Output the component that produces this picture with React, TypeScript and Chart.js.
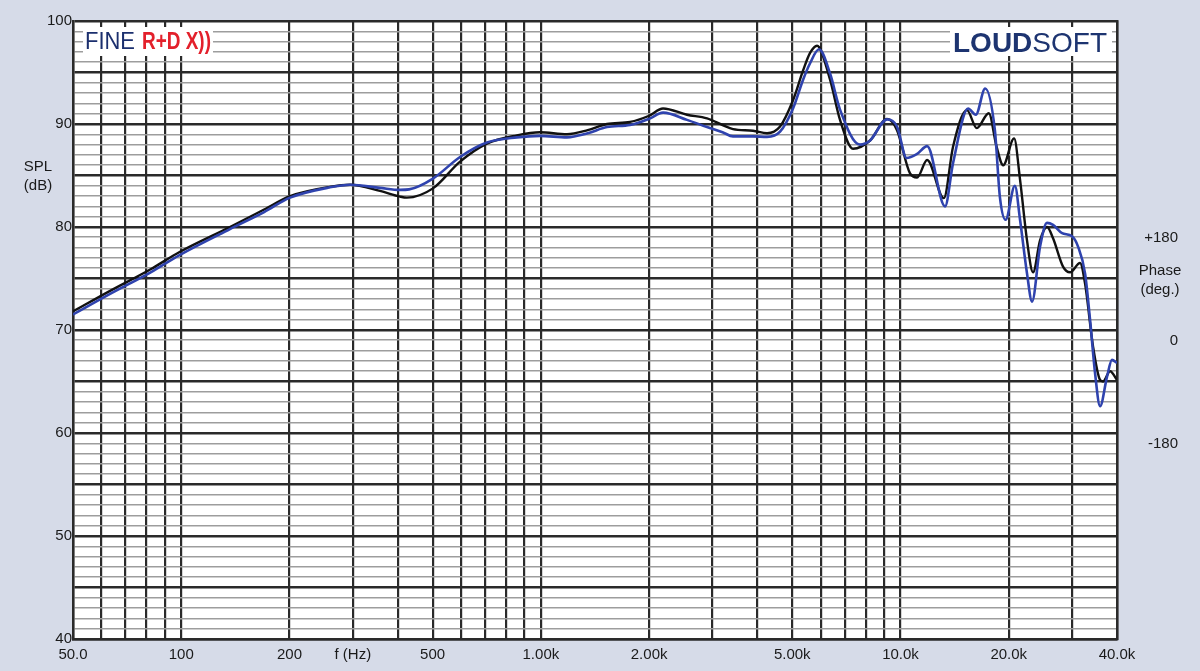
import React, { useEffect, useRef } from "react";
import { Chart, registerables } from "chart.js";

Chart.register(...registerables);

// ---- data ----
const blackFreq = [50, 63.4, 82.2, 99.2, 136.6, 170, 200.7, 259, 295, 357, 406, 424, 501, 596, 708, 858, 994, 1182, 1350, 1527, 1770, 2000, 2186, 2549, 2898, 3200, 3422, 3890, 4255, 4625, 5025, 5360, 5605, 5860, 6370, 6790, 7380, 8230, 9175, 9780, 10630, 11120, 11860, 13200, 14000, 15300, 16300, 17600, 18500, 19300, 20700, 21500, 22480, 23370, 24440, 25560, 26560, 28310, 29610, 31570, 32600, 34310, 35890, 36590, 38270, 40000];
const blackSpl = [71.8, 73.8, 75.9, 77.6, 80.0, 81.7, 83.0, 83.9, 84.1, 83.5, 82.95, 82.85, 83.75, 86.35, 88.1, 88.9, 89.2, 89.0, 89.4, 90.0, 90.2, 90.8, 91.5, 90.9, 90.55, 89.9, 89.5, 89.35, 89.1, 89.75, 92.3, 95.2, 96.9, 97.6, 94.3, 90.4, 87.6, 88.4, 90.5, 89.4, 85.2, 84.8, 86.5, 82.8, 87.8, 91.35, 89.6, 91.05, 87.8, 86.0, 88.6, 84.6, 78.7, 75.6, 78.7, 80.0, 78.9, 76.15, 75.6, 76.5, 74.5, 68.4, 65.15, 65.0, 66.0, 65.15];

const blueFreq = [50, 63.4, 82.2, 99.2, 136.6, 170, 200.7, 259, 295, 357, 406, 430, 501, 596, 708, 858, 994, 1182, 1350, 1527, 1770, 2000, 2186, 2549, 2898, 3200, 3422, 3890, 4255, 4625, 5025, 5360, 5605, 5935, 6370, 6790, 7715, 8230, 9175, 9780, 10400, 11120, 11860, 13300, 14000, 15420, 16200, 17200, 18300, 18900, 19600, 20800, 21500, 22480, 23220, 24440, 25560, 26560, 28140, 29990, 31170, 32600, 33660, 34760, 35890, 37540, 38730, 40000];
const blueSpl = [71.5, 73.5, 75.6, 77.3, 79.8, 81.45, 82.85, 83.85, 84.1, 83.8, 83.6, 83.65, 84.7, 86.8, 88.2, 88.7, 88.85, 88.7, 89.1, 89.7, 89.9, 90.5, 91.1, 90.4, 89.7, 89.2, 88.8, 88.8, 88.75, 89.25, 91.5, 94.3, 95.9, 97.25, 94.9, 91.4, 88.0, 88.4, 90.45, 89.75, 86.7, 87.1, 87.85, 82.0, 86.2, 91.5, 90.9, 93.45, 89.4, 82.9, 80.7, 84.0, 80.7, 75.5, 72.75, 78.1, 80.4, 80.2, 79.4, 79.1, 78.1, 75.5, 71.0, 65.8, 62.6, 65.5, 67.1, 66.8];

const freqGrid = [50, 60, 70, 80, 90, 100, 200, 300, 400, 500, 600, 700, 800, 900, 1000, 2000, 3000, 4000, 5000, 6000, 7000, 8000, 9000, 10000, 20000, 30000, 40000];
const freqLabelValues = [50, 100, 200, 300, 500, 1000, 2000, 5000, 10000, 20000, 40000];
const freqLabelTexts = ["50.0", "100", "200", "f (Hz)", "500", "1.00k", "2.00k", "5.00k", "10.0k", "20.0k", "40.0k"];

const splMin = 40;
const splMax = 100;
const splLabelValues = [40, 50, 60, 70, 80, 90, 100];

const phaseTickValues = [-180, 0, 180];
const phaseTickTexts = ["-180", "0", "+180"];
const phaseMin = -521;
const phaseMax = 559;

const DARK = "#2a2a2a";
const GRAY = "#9d9d9d";
const BG = "#d6dbe8";
const FONT = "'Liberation Sans', Arial, sans-serif";

const AREA_TOP = 21;
const AREA_BOTTOM = 639;

const decorPlugin = {
  id: "decor",
  beforeDraw(chart: any) {
    const { ctx, chartArea } = chart;
    ctx.save();
    ctx.fillStyle = BG;
    ctx.fillRect(0, 0, chart.width, chart.height);
    ctx.fillStyle = "#ffffff";
    ctx.fillRect(chartArea.left, chartArea.top, chartArea.right - chartArea.left, chartArea.bottom - chartArea.top);
    ctx.restore();
  },
  beforeDatasetsDraw(chart: any) {
    const { ctx } = chart;
    ctx.save();
    ctx.fillStyle = "#ffffff";
    ctx.fillRect(83, 27, 130, 29);
    ctx.fillRect(950, 27, 162, 29);
    ctx.textBaseline = "alphabetic";
    ctx.textAlign = "left";
    ctx.fillStyle = "#1b2f6e";
    ctx.font = `23px ${FONT}`;
    ctx.fillText("FINE", 85, 49, 50);
    ctx.fillStyle = "#e3202b";
    ctx.font = `bold 23px ${FONT}`;
    ctx.fillText("R+D X))", 142, 49, 69);
    ctx.fillStyle = "#1d3470";
    ctx.font = `bold 28px ${FONT}`;
    ctx.fillText("LOUD", 953, 52);
    const w = ctx.measureText("LOUD").width;
    ctx.font = `28px ${FONT}`;
    ctx.fillText("SOFT", 953 + w, 52);
    ctx.fillStyle = "#1a1a1a";
    ctx.font = `15px ${FONT}`;
    ctx.textAlign = "center";
    ctx.textBaseline = "middle";
    ctx.fillText("SPL", 38, 167);
    ctx.fillText("(dB)", 38, 186);
    ctx.fillText("Phase", 1160, 271);
    ctx.fillText("(deg.)", 1160, 290);
    ctx.restore();
  },
};

export default function App() {
  const ref = useRef<HTMLCanvasElement | null>(null);
  useEffect(() => {
    if (!ref.current) return;
    const dims = { xH: 32 };
    const chart = new Chart(ref.current, {
      type: "line",
      data: {
        datasets: [
          {
            label: "blue",
            data: blueFreq.map((f, i) => ({ x: f, y: blueSpl[i] })),
            borderColor: "#2f43ae",
            borderWidth: 2.6,
            pointRadius: 0,
            cubicInterpolationMode: "monotone",
            fill: false,
          },
          {
            label: "black",
            data: blackFreq.map((f, i) => ({ x: f, y: blackSpl[i] })),
            borderColor: "#111111",
            borderWidth: 2.4,
            pointRadius: 0,
            cubicInterpolationMode: "monotone",
            fill: false,
          },
        ],
      },
      options: {
        responsive: false,
        animation: false,
        events: [],
        layout: { padding: { top: AREA_TOP, left: 0, right: 22, bottom: 0 } },
        plugins: { legend: { display: false }, tooltip: { enabled: false }, title: { display: false } },
        scales: {
          x: {
            type: "logarithmic",
            min: 50,
            max: 40000,
            afterBuildTicks: (s: any) => {
              s.ticks = freqGrid.map((v) => ({ value: v }));
            },
            afterFit: (s: any) => {
              s.height = dims.xH;
            },
            ticks: {
              autoSkip: false,
              maxRotation: 0,
              minRotation: 0,
              padding: 7,
              color: "#1a1a1a",
              font: { family: FONT, size: 15 },
              callback: (v: any) => {
                const i = freqLabelValues.indexOf(Number(v));
                return i >= 0 ? freqLabelTexts[i] : "";
              },
            },
            grid: { color: DARK, lineWidth: 2.2, drawTicks: false },
            border: { display: true, color: DARK, width: 2.5 },
          },
          y: {
            type: "linear",
            position: "left",
            min: splMin,
            max: splMax,
            afterBuildTicks: (s: any) => {
              const t = [];
              for (let v = splMin; v <= splMax; v++) t.push({ value: v });
              s.ticks = t;
            },
            afterFit: (s: any) => {
              s.width = 73;
            },
            ticks: {
              autoSkip: false,
              padding: 1,
              color: "#1a1a1a",
              font: { family: FONT, size: 15 },
              callback: (v: any) => (splLabelValues.includes(Number(v)) ? String(v) : ""),
            },
            grid: {
              drawTicks: false,
              color: (c: any) => (c.tick && c.tick.value % 5 === 0 ? DARK : GRAY),
              lineWidth: (c: any) => (c.tick && c.tick.value % 5 === 0 ? 2.5 : 1.6),
            },
            border: { display: true, color: DARK, width: 2.5 },
          },
          y2: {
            type: "linear",
            position: "right",
            min: phaseMin,
            max: phaseMax,
            afterBuildTicks: (s: any) => {
              s.ticks = phaseTickValues.map((v) => ({ value: v }));
            },
            afterFit: (s: any) => {
              s.width = 61;
            },
            ticks: {
              autoSkip: false,
              crossAlign: "far",
              padding: 4,
              color: "#1a1a1a",
              font: { family: FONT, size: 15 },
              callback: (v: any) => {
                const i = phaseTickValues.indexOf(Number(v));
                return i >= 0 ? phaseTickTexts[i] : "";
              },
            },
            grid: { display: false, drawTicks: false },
            border: { display: true, color: DARK, width: 2.5 },
          },
        },
      },
      plugins: [decorPlugin],
    } as any);
    // pin the plot area to the reference's pixel box
    for (let k = 0; k < 4; k++) {
      const ca = chart.chartArea;
      const dt = ca.top - AREA_TOP;
      const db = ca.bottom - AREA_BOTTOM;
      if (Math.abs(dt) < 0.5 && Math.abs(db) < 0.5) break;
      const pad = (chart.options as any).layout.padding;
      pad.top = Math.max(0, pad.top - dt);
      dims.xH = dims.xH + db;
      chart.update();
    }
    return () => chart.destroy();
  }, []);
  return (
    <div style={{ position: "absolute", left: 0, top: 0, width: 1200, height: 671, background: BG }}>
      <canvas ref={ref} width={1200} height={671} style={{ display: "block", width: 1200, height: 671 }} />
    </div>
  );
}
